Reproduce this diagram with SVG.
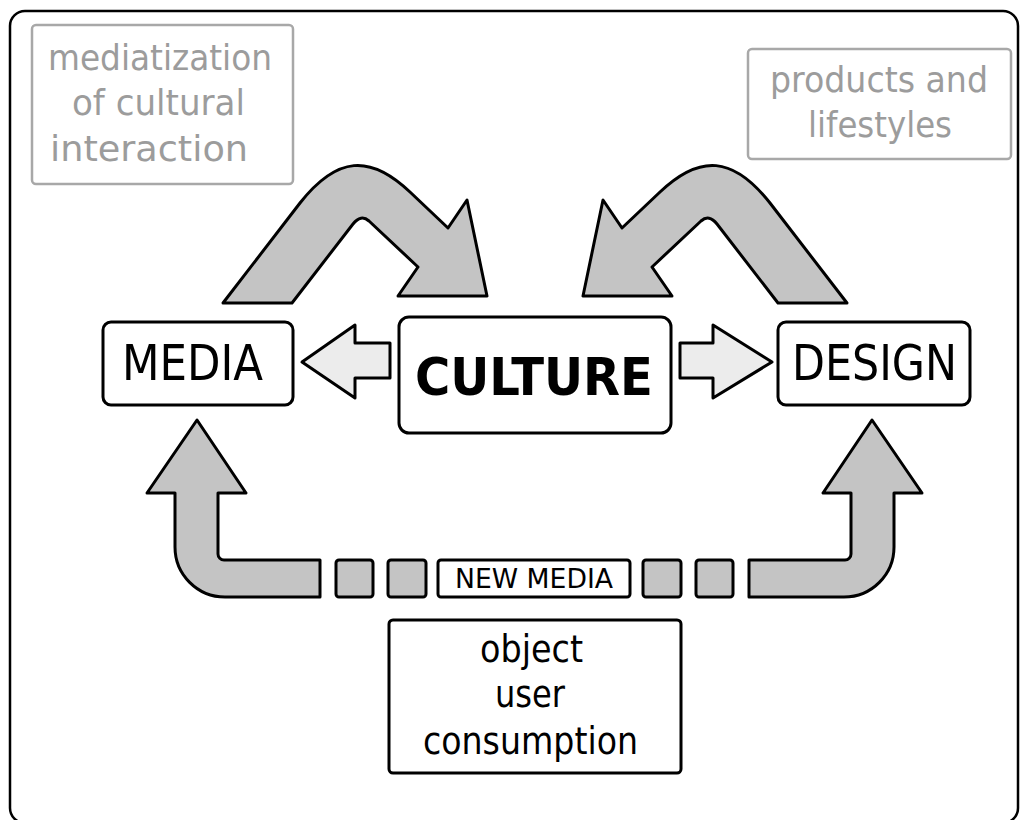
<svg xmlns="http://www.w3.org/2000/svg" width="1021" height="820" viewBox="0 0 1021 820">
<style>
.t{font-family:"DejaVu Sans Condensed","DejaVu Sans",sans-serif;font-stretch:condensed;fill:#000}
.g{fill:#9c9c9c}
.box{fill:#fff;stroke:#000;stroke-width:3}
.gbox{fill:#fff;stroke:#a8a8a8;stroke-width:2.5}
.big{fill:#c4c4c4;stroke:#000;stroke-width:3;stroke-linejoin:round}
.small{fill:#ececec;stroke:#000;stroke-width:3;stroke-linejoin:round}
</style>
<rect width="1021" height="820" fill="#fff"/>
<rect x="10" y="11" width="1008" height="812" rx="15" fill="none" stroke="#000" stroke-width="2.5"/>
<g id="mediatization">
<rect class="gbox" x="32" y="25" width="261" height="159" rx="4"/>
<text class="t g" font-size="36" x="48" y="70" textLength="224" lengthAdjust="spacingAndGlyphs">mediatization</text>
<text class="t g" font-size="36" x="72" y="115" textLength="173" lengthAdjust="spacingAndGlyphs">of cultural</text>
<text class="t g" font-size="36" x="50" y="161" textLength="198" lengthAdjust="spacingAndGlyphs">interaction</text>
</g>
<g id="products">
<rect class="gbox" x="748" y="49" width="263" height="110" rx="4"/>
<text class="t g" font-size="36" x="770" y="92" textLength="218" lengthAdjust="spacingAndGlyphs">products and</text>
<text class="t g" font-size="36" x="808" y="137" textLength="144" lengthAdjust="spacingAndGlyphs">lifestyles</text>
</g>
<g id="connectors">
<path id="arrow-culture-media-top" class="big" d="M223,303 L300,203 C337,156 370,154 410,192 L448,228 L467,200 L487,296 L398,296 L418,267 L369,221 Q361,214 353,224 L292,303 Z"/>
<path id="arrow-culture-design-top" class="big" transform="translate(1070,0) scale(-1,1)" d="M223,303 L300,203 C337,156 370,154 410,192 L448,228 L467,200 L487,296 L398,296 L418,267 L369,221 Q361,214 353,224 L292,303 Z"/>
<path id="arrow-culture-media" class="small" d="M302,362 L355,325 L355,343 L390,343 L390,378 L355,378 L355,398 Z"/>
<path id="arrow-culture-design" class="small" d="M772,362 L713,325 L713,343 L680,343 L680,378 L713,378 L713,398 Z"/>
<g id="bottom-left">
<path class="big" d="M197,420 L246,493 L218,493 L218,554 A6,6 0 0 0 224,560 L320,560 L320,597 L225,597 A50,50 0 0 1 175,547 L175,493 L147,493 Z"/>
<rect class="big" x="336" y="560" width="37" height="37" rx="3"/>
<rect class="big" x="388" y="560" width="38" height="37" rx="3"/>
</g>
<g id="bottom-right" transform="translate(1069,0) scale(-1,1)">
<path class="big" d="M197,420 L246,493 L218,493 L218,554 A6,6 0 0 0 224,560 L320,560 L320,597 L225,597 A50,50 0 0 1 175,547 L175,493 L147,493 Z"/>
<rect class="big" x="336" y="560" width="37" height="37" rx="3"/>
<rect class="big" x="388" y="560" width="38" height="37" rx="3"/>
</g>
</g>
<g id="media">
<rect class="box" x="103" y="322" width="190" height="83" rx="8"/>
<text class="t" font-size="50" x="122" y="380" textLength="141" lengthAdjust="spacingAndGlyphs">MEDIA</text>
</g>
<g id="culture">
<rect class="box" x="399" y="317" width="272" height="116" rx="10"/>
<text class="t" font-size="52" font-weight="bold" x="415" y="395" textLength="238" lengthAdjust="spacingAndGlyphs">CULTURE</text>
</g>
<g id="design">
<rect class="box" x="778" y="322" width="192" height="83" rx="8"/>
<text class="t" font-size="50" x="792" y="380" textLength="165" lengthAdjust="spacingAndGlyphs">DESIGN</text>
</g>
<g id="newmedia">
<rect class="box" x="438" y="560" width="192" height="37" rx="3"/>
<text class="t" font-size="27" x="455" y="588" textLength="158" lengthAdjust="spacingAndGlyphs">NEW MEDIA</text>
</g>
<g id="object">
<rect class="box" x="389" y="620" width="292" height="153" rx="4"/>
<text class="t" font-size="37" x="480" y="662" textLength="103" lengthAdjust="spacingAndGlyphs">object</text>
<text class="t" font-size="37" x="495" y="707" textLength="70" lengthAdjust="spacingAndGlyphs">user</text>
<text class="t" font-size="37" x="423" y="754" textLength="215" lengthAdjust="spacingAndGlyphs">consumption</text>
</g>
</svg>
